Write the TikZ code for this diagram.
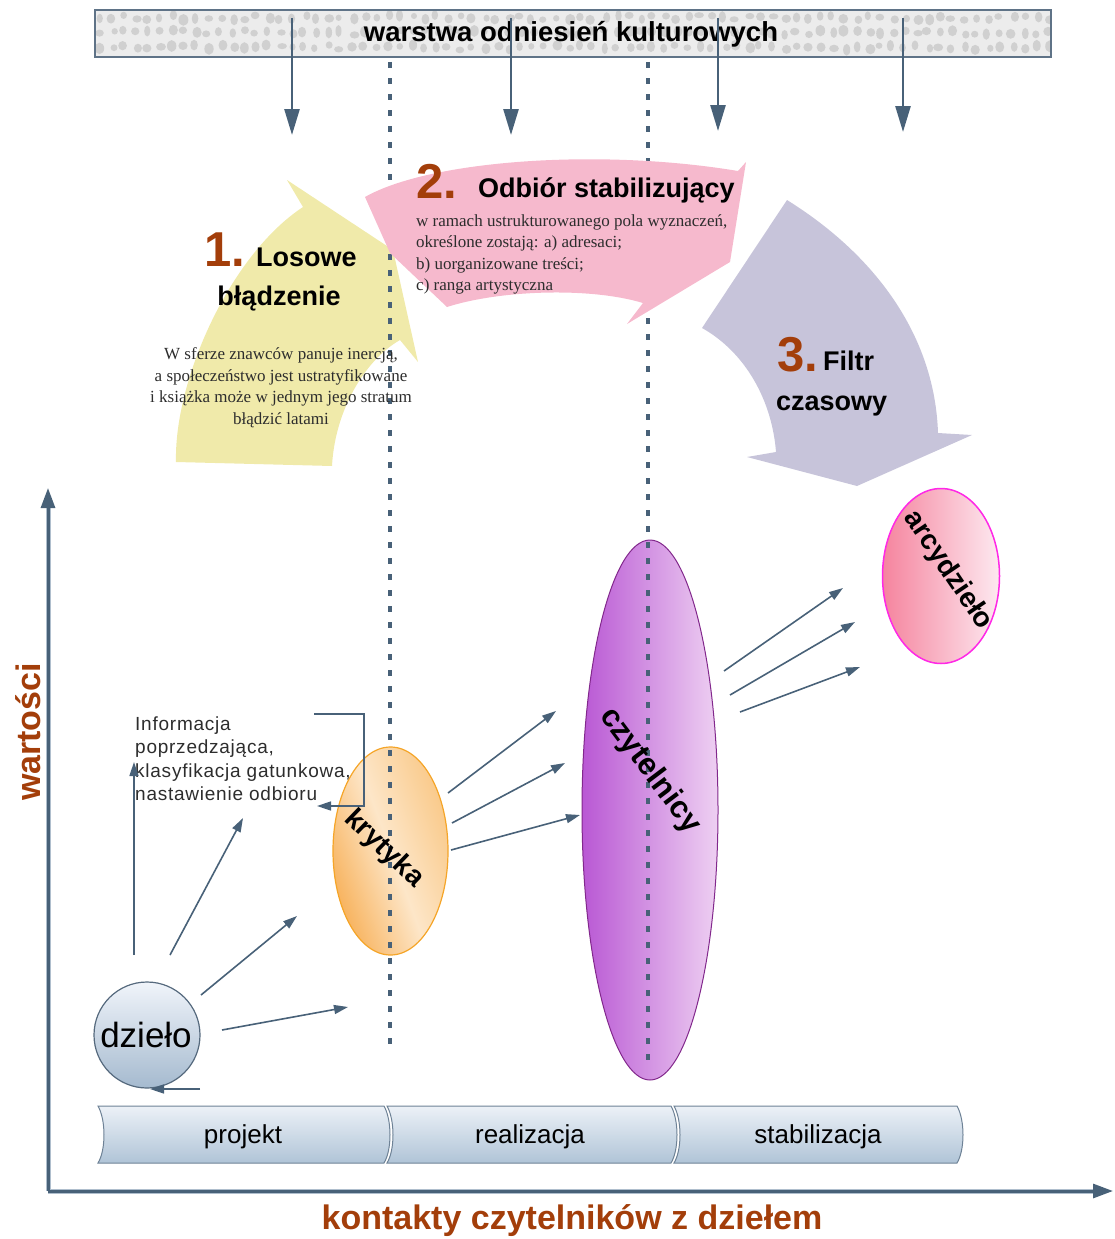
\documentclass[tikz,border=0pt]{standalone}
\usepackage{fontspec}
\setmainfont{Liberation Serif}
\setsansfont{Liberation Sans}
\newfontfamily\arialfont{Liberation Sans}
\newfontfamily\infofont[LetterSpace=4]{Liberation Sans}
\usetikzlibrary{arrows.meta,shapes.geometric}
\definecolor{conncol}{RGB}{72,97,120}
\definecolor{brn}{RGB}{163,62,10}
\definecolor{yel}{RGB}{240,234,170}
\definecolor{pnk}{RGB}{246,185,205}
\definecolor{lav}{RGB}{199,196,218}
\definecolor{serifcol}{RGB}{45,45,45}
\definecolor{barbg}{RGB}{236,236,236}
\definecolor{barspot}{RGB}{208,208,208}
\definecolor{barframe}{RGB}{95,115,135}
\definecolor{segtop}{RGB}{236,241,247}
\definecolor{segbot}{RGB}{176,196,215}
\definecolor{segframe}{RGB}{110,130,150}
\definecolor{korange}{RGB}{247,176,88}
\definecolor{klight}{RGB}{253,230,200}
\definecolor{kright}{RGB}{249,200,135}
\definecolor{kframe}{RGB}{245,165,40}
\definecolor{pdark}{RGB}{185,88,212}
\definecolor{plight}{RGB}{238,208,242}
\definecolor{pframe}{RGB}{130,40,140}
\definecolor{adark}{RGB}{245,132,158}
\definecolor{alight}{RGB}{253,233,240}
\definecolor{aframe}{RGB}{255,40,230}
\definecolor{dtop}{RGB}{240,244,250}
\definecolor{dbot}{RGB}{165,186,207}
\definecolor{dframe}{RGB}{85,105,125}
\definecolor{axhalo}{RGB}{175,190,205}
\tikzset{
  conn/.style={draw=conncol, line width=1.6pt, -{Triangle[length=14pt,width=9pt]}},
  downarr/.style={draw=conncol, line width=2.6pt, -{Triangle[length=26pt,width=15pt]}},
  axisarr/.style={draw=conncol, line width=3pt, -{Triangle[length=20pt,width=14pt]}},
  vdots/.style={draw=conncol, line width=3.3pt, dash pattern=on 6pt off 10pt},
  headtxt/.style={font=\arialfont\bfseries\fontsize{27}{30}\selectfont, inner sep=0, anchor=base west},
  numtxt/.style={font=\arialfont\bfseries\fontsize{49}{50}\selectfont, text=brn, inner sep=0, anchor=base west},
  sertxt/.style={font=\fontsize{17}{20}\selectfont, text=serifcol, inner sep=0},
  infotxt/.style={font=\infofont\fontsize{19}{22}\selectfont, text=serifcol, inner sep=0, anchor=base west},
  segtxt/.style={font=\arialfont\fontsize{26}{28}\selectfont, inner sep=0, anchor=base},
  segment/.style={draw=segframe, line width=1pt, top color=segtop, bottom color=segbot},
  ovaltxt/.style={font=\arialfont\bfseries\fontsize{28}{30}\selectfont, inner sep=0},
  axislbl/.style={font=\arialfont\bfseries\fontsize{34}{36}\selectfont, text=brn, inner sep=0}
}
\begin{document}
\begin{tikzpicture}[x=1pt,y=-1pt]
\useasboundingbox (0,0) rectangle (1115,1239);

% ---------- top bar ----------
\fill[barbg] (95,10) rectangle (1051,57);
\begin{scope}
  \clip (95,10) rectangle (1051,57);
  \pgfmathsetseed{11}
  \foreach \i in {0,...,80}{
    \foreach \j in {0,1,2}{
      \fill[barspot] ({98+\i*12+rnd*5},{15+\j*15+rnd*5}) ellipse [x radius={3+2*rnd}, y radius={3+3*rnd}];
    }
  }
\end{scope}
\draw[barframe, line width=1.2pt] (95,10) rectangle (1051,57);
\node[font=\arialfont\bfseries\fontsize{27.5}{30}\selectfont, inner sep=0, anchor=base] (bartxt) at (571,42) {warstwa odniesień kulturowych};

% down arrows
\foreach \n/\x/\yb in {a/292/135, b/511/135, c/718/131, d/903/132}{
  \coordinate (top\n) at (\x,18);
  \coordinate (bot\n) at (\x,\yb);
  \draw[downarr] (top\n) -- (bot\n);
}

% ---------- axes ----------
\coordinate (orig) at (48,1191);
\coordinate (ytip) at (48,488);
\coordinate (xtip) at (1113,1191);
\draw[axhalo, line width=5pt, shorten >=18pt] (orig) -- (ytip);
\draw[axhalo, line width=5pt, shorten >=18pt] (orig) -- (xtip);
\draw[axisarr] (orig) -- (ytip);
\draw[axisarr] (orig) -- (xtip);
\node[axislbl, rotate=90] (ylbl) at (28,732) {wartości};
\node[axislbl, anchor=base] (xlbl) at (572,1229) {kontakty czytelników z dziełem};

% ---------- bottom phases ----------
\path[segment] (98,1106) -- (384,1106) .. controls (392,1120) and (392,1150) .. (384,1163)
  -- (98,1163) .. controls (106,1150) and (106,1120) .. (98,1106) -- cycle;
\path[segment] (387,1106) -- (671,1106) .. controls (679,1120) and (679,1150) .. (671,1163)
  -- (387,1163) .. controls (395,1150) and (395,1120) .. (387,1106) -- cycle;
\path[segment] (674,1106) -- (957,1106) .. controls (965,1120) and (965,1150) .. (957,1163)
  -- (674,1163) .. controls (682,1150) and (682,1120) .. (674,1106) -- cycle;
\node[segtxt] (p1) at (243,1143) {projekt};
\node[segtxt] (p2) at (530,1143) {realizacja};
\node[segtxt] (p3) at (818,1143) {stabilizacja};

% ---------- stage 1 shape (under dotted lines) ----------
\fill[yel] (176,462) .. controls (174,380) and (230,255) .. (303,207)
  -- (287,180) -- (393,250) -- (418,362) -- (400,340)
  .. controls (365,360) and (335,410) .. (332,466) -- cycle;

% ---------- ovals ----------
\node[ellipse, draw=kframe, line width=1.2pt, minimum width=115pt, minimum height=208pt, inner sep=0,
  left color=korange, right color=kright, middle color=klight, shading angle=110] (kryt) at (390.5,851) {};
\node[ellipse, draw=pframe, line width=1pt, minimum width=136pt, minimum height=540pt, inner sep=0,
  left color=pdark, right color=plight] (czyt) at (650,810) {};
\node[ellipse, draw=aframe, line width=1.5pt, minimum width=117pt, minimum height=175pt, inner sep=0,
  left color=adark, right color=alight] (arcy) at (941,576) {};
\node[circle, draw=dframe, line width=1.2pt, minimum size=106pt, inner sep=0,
  top color=dtop, bottom color=dbot] (dz) at (147,1035) {};

% ---------- dotted phase lines ----------
\coordinate (d1a) at (390,62);  \coordinate (d1b) at (390,1050);
\coordinate (d2a) at (648,62);  \coordinate (d2b) at (648,1068);
\draw[vdots] (d1a) -- (d1b);
\draw[vdots] (d2a) -- (d2b);

% ---------- stage 2 and 3 shapes (over dotted lines) ----------
\fill[pnk] (365,197) .. controls (430,160) and (600,148) .. (738,171)
  -- (746,162) -- (730,262) -- (627,324) -- (643,303)
  .. controls (590,287) and (500,290) .. (447,307) -- (390,253) -- cycle;
\fill[lav] (787,200) .. controls (880,258) and (935,340) .. (938,433)
  -- (972,435) -- (857,486) -- (747,457) -- (776,452)
  .. controls (772,400) and (745,352) .. (702,328) -- cycle;

% texts of stage 1
\node[numtxt] (n1) at (204,266) {1.};
\node[headtxt] (h1a) at (256,266) {Losowe};
\node[headtxt, anchor=base] (h1b) at (279,305) {błądzenie};
\node[sertxt, anchor=base] (s1a) at (281,359) {W sferze znawców panuje inercją,};
\node[sertxt, anchor=base] (s1b) at (281,381) {a społeczeństwo jest ustratyfikowane};
\node[sertxt, anchor=base] (s1c) at (281,402.5) {i książka może w jednym jego stratum};
\node[sertxt, anchor=base] (s1d) at (281,424) {błądzić latami};

% texts of stage 2
\node[numtxt] (n2) at (416,198) {2.};
\node[headtxt] (h2) at (478,197) {Odbiór stabilizujący};
\node[sertxt, anchor=base west] (s2a) at (416,226) {w ramach ustrukturowanego pola wyznaczeń,};
\node[sertxt, anchor=base west] (s2b) at (416,247.5) {określone zostają: a) adresaci;};
\node[sertxt, anchor=base west] (s2c) at (416,269) {b) uorganizowane treści;};
\node[sertxt, anchor=base west] (s2d) at (416,290.5) {c) ranga artystyczna};

% texts of stage 3
\node[numtxt] (n3) at (777,371) {3.};
\node[headtxt] (h3a) at (823,370) {Filtr};
\node[headtxt] (h3b) at (776,410) {czasowy};

% ---------- info text ----------
\node[infotxt] (i1) at (135,730) {Informacja};
\node[infotxt] (i2) at (135,753) {poprzedzająca,};
\node[infotxt] (i3) at (135,777) {klasyfikacja gatunkowa,};
\node[infotxt] (i4) at (135,800) {nastawienie odbioru};

% ---------- connectors ----------
\coordinate (e1s) at (134,955);  \coordinate (e1e) at (134,762);
\coordinate (e2s) at (170,955);  \coordinate (e2e) at (243,818);
\coordinate (e3s) at (201,995);  \coordinate (e3e) at (297,916);
\coordinate (e4s) at (222,1030); \coordinate (e4e) at (348,1007);
\coordinate (e5s) at (200,1089); \coordinate (e5e) at (150,1089);
\draw[conn] (e1s) -- (e1e);
\draw[conn] (e2s) -- (e2e);
\draw[conn] (e3s) -- (e3e);
\draw[conn] (e4s) -- (e4e);
\draw[conn] (e5s) -- (e5e);
\coordinate (b1) at (314,714); \coordinate (b2) at (364,714);
\coordinate (b3) at (364,806); \coordinate (b4) at (317,806);
\draw[conn] (b1) -- (b2) -- (b3) -- (b4);

\coordinate (k1s) at (448,793); \coordinate (k1e) at (556,711);
\coordinate (k2s) at (452,823); \coordinate (k2e) at (565,763);
\coordinate (k3s) at (451,850); \coordinate (k3e) at (580,815);
\draw[conn] (k1s) -- (k1e);
\draw[conn] (k2s) -- (k2e);
\draw[conn] (k3s) -- (k3e);

\coordinate (c1s) at (724,671); \coordinate (c1e) at (843,588);
\coordinate (c2s) at (730,695); \coordinate (c2e) at (855,622);
\coordinate (c3s) at (740,712); \coordinate (c3e) at (860,667);
\draw[conn] (c1s) -- (c1e);
\draw[conn] (c2s) -- (c2e);
\draw[conn] (c3s) -- (c3e);

% ---------- oval labels ----------
\node[ovaltxt, rotate=-44] (krytl) at (384,849) {krytyka};
\node[ovaltxt, rotate=-53, font=\arialfont\bfseries\fontsize{31}{33}\selectfont] (czytl) at (650,771) {czytelnicy};
\node[ovaltxt, rotate=-56] (arcyl) at (948,570) {arcydzieło};
\node[font=\arialfont\fontsize{35}{37}\selectfont, inner sep=0, anchor=base] (dzl) at (146,1047) {dzieło};
\end{tikzpicture}
\end{document}
